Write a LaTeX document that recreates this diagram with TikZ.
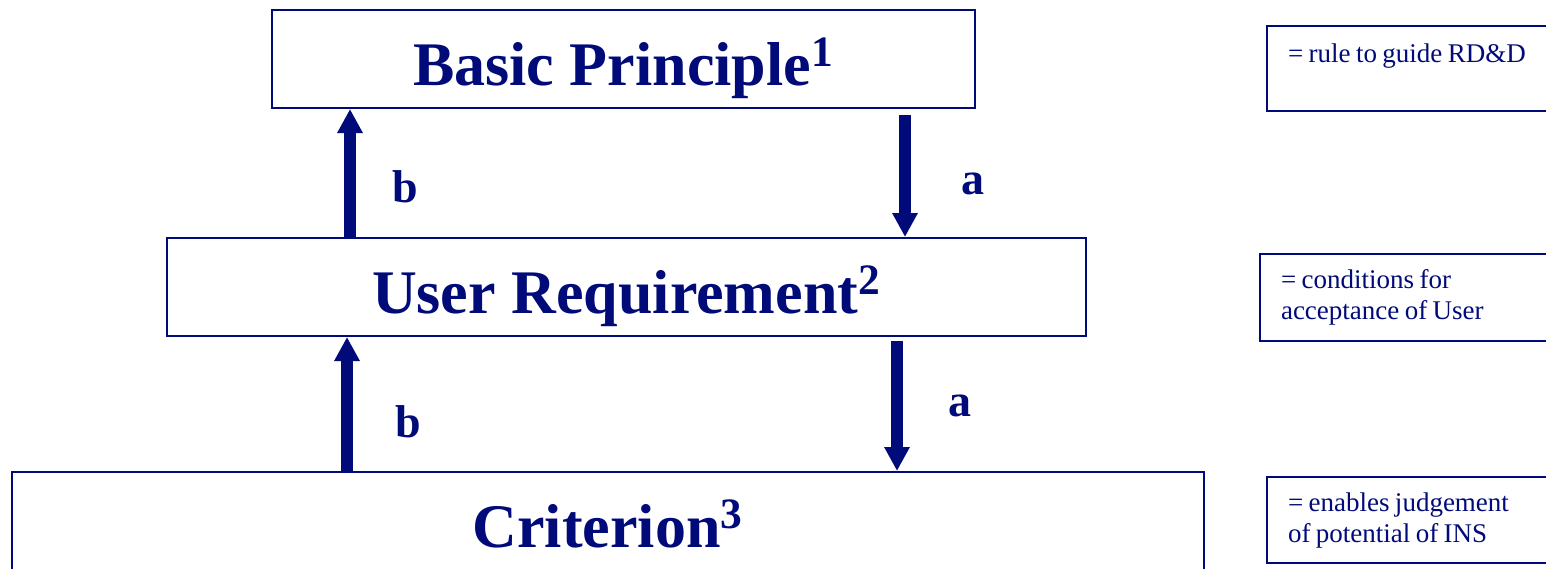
\documentclass[tikz,border=0pt]{standalone}
\usepackage{fontspec}
\setmainfont{Liberation Serif}
\usepackage{tikz}
\usetikzlibrary{arrows.meta, calc}
\definecolor{navyink}{RGB}{0,10,120}
\newcommand{\tightspaces}{\spaceskip=0.2em plus 0.1em minus 0.05em\relax}

\begin{document}
\begin{tikzpicture}[
    x=0.5pt, y=-0.5pt,
    levelbox/.style={
        rectangle,
        draw=navyink,
        line width=1pt,
        text=navyink,
        font=\fontsize{31}{36}\selectfont\bfseries,
        text height=26pt,
        text depth=0pt,
        minimum height=49pt
    },
    notebox/.style={
        rectangle,
        draw=navyink,
        line width=1pt,
        text=navyink,
        font=\fontsize{13.5}{15.5}\selectfont,
        execute at begin node=\tightspaces,
        anchor=north west,
        align=left,
        text width=129pt,
        inner xsep=10.5pt
    },
    flowlabel/.style={text=navyink, font=\fontsize{23}{28}\selectfont\bfseries},
    arrow/.style={-{Triangle[width=12pt,length=12pt]}, line width=6pt, draw=navyink}
]

\useasboundingbox (0,0) rectangle (1546,568);

% the three levels
\node[levelbox, minimum width=351.5pt] (principle) at (623.5,59) {Basic Principle\textsuperscript{1}};
\node[levelbox, minimum width=459.5pt] (requirement) at (626.5,287) {User Requirement\textsuperscript{2}};
\node[levelbox, minimum width=596pt] (criterion) at (608,521) {Criterion\textsuperscript{3}};

% meanings on the right
\node[notebox, minimum height=42.5pt] (rule) at (1266,25) {= rule to guide RD\&D\\ \mbox{}};
\node[notebox, minimum height=43.5pt] (conditions) at (1259,253) {= conditions for\\acceptance of User};
\node[notebox, minimum height=43pt] (judgement) at (1266,476) {= enables judgement\\of potential of INS};

% arrow columns
\coordinate (bup) at (350,0);
\coordinate (bdown) at (347,0);
\coordinate (aup) at (905,0);
\coordinate (adown) at (897,0);

\draw[arrow] (requirement.north -| bup) -- (principle.south -| bup);
\draw[arrow] (criterion.north -| bdown) -- (requirement.south -| bdown);
\draw[arrow] ($(principle.south -| aup)+(0,6)$) -- (requirement.north -| aup);
\draw[arrow] ($(requirement.south -| adown)+(0,4)$) -- (criterion.north -| adown);

\node[flowlabel] (b1) at (405,187) {b};
\node[flowlabel] (b2) at (408,422) {b};
\node[flowlabel] (a1) at (973,184) {a};
\node[flowlabel] (a2) at (960,406) {a};

\end{tikzpicture}
\end{document}
